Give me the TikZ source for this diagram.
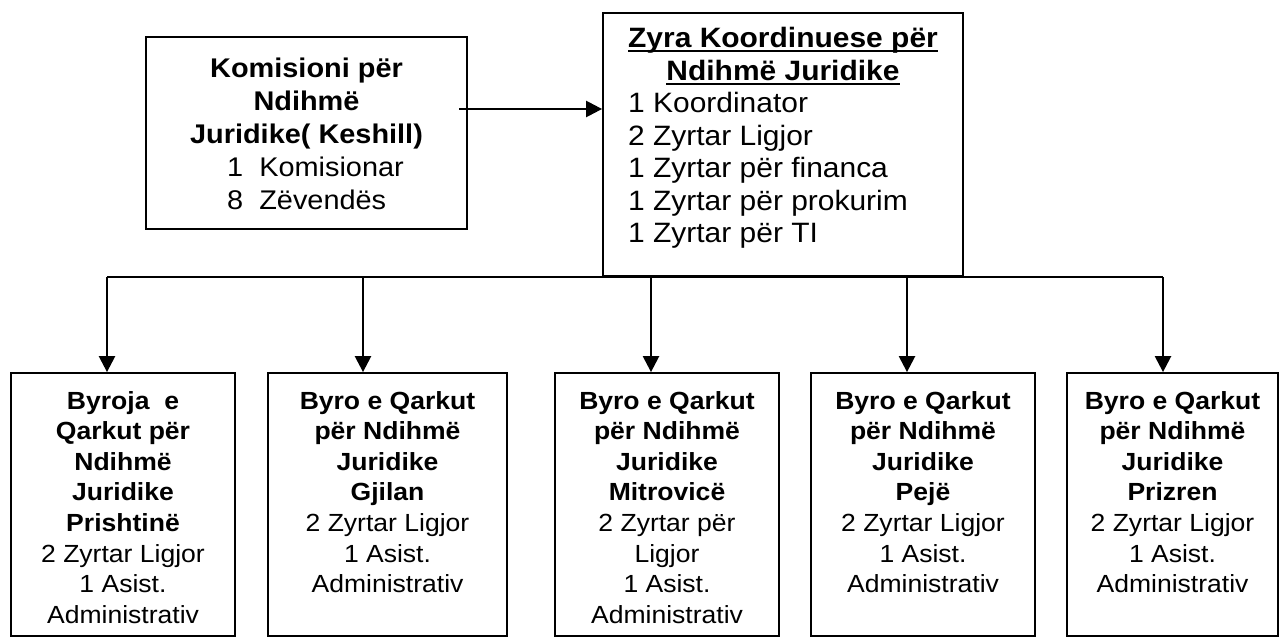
\documentclass[tikz,border=0pt]{standalone}
\usepackage{fontspec}
\setmainfont{Liberation Sans}[FakeStretch=1.07]
\usetikzlibrary{arrows.meta}

\newcommand{\topfont}{\fontsize{14}{16.25}\selectfont}
\newcommand{\komfont}{\fontsize{13.5}{16.5}\selectfont}
\newcommand{\byrofont}{\fontsize{12.4}{15.3}\selectfont}
\newcommand{\byro}[1]{\parbox[t][115.5pt][t]{100pt}{\centering\rule{0pt}{10pt}#1}}
\newcommand{\ulbold}[1]{\setbox0\hbox{\textbf{#1}}\rlap{\rule[-2.4pt]{\wd0}{1.1pt}}\box0}

\begin{document}
\begin{tikzpicture}[x=0.5pt, y=-0.5pt,
	box/.style={draw, line width=0.9pt, inner sep=0pt},
	byrobox/.style={box, minimum width=112pt, minimum height=131.5pt, inner ysep=8pt, font=\byrofont},
	link/.style={line width=1.2pt},
	arr/.style={link, -{Triangle[width=8pt, length=8pt]}}]
	\useasboundingbox (0,0) rectangle (1279,637);

	\node [box, minimum width=160.5pt, minimum height=96pt, align=center, font=\komfont] (komisioni) at (306.5,133)
		{\rule{0pt}{15pt}\textbf{Komisioni për}\\ \textbf{Ndihmë}\\ \textbf{Juridike( Keshill)}\\
		 \begin{tabular}[t]{@{\hspace{9pt}}l@{}}1\ \ Komisionar\\ 8\ \ Zëvendës\end{tabular}};
	\node [box, minimum width=180pt, minimum height=131.5pt, font=\topfont] (zyra) at (783,144.5)
		{\begin{tabular}{@{}l@{}}
		 \multicolumn{1}{@{}c@{}}{\ulbold{Zyra Koordinuese për}}\\
		 \multicolumn{1}{@{}c@{}}{\ulbold{Ndihmë Juridike}}\\
		 1 Koordinator\\ 2 Zyrtar Ligjor\\ 1 Zyrtar për financa\\ 1 Zyrtar për prokurim\\ 1 Zyrtar për TI\\[6pt]
		 \end{tabular}};

	\node [byrobox] (prishtine) at (123,504.5)
		{\byro{\textbf{Byroja\ \ e}\\ \textbf{Qarkut për}\\ \textbf{Ndihmë}\\ \textbf{Juridike}\\ \textbf{Prishtinë}\\ 2 Zyrtar Ligjor\\ 1 Asist.\\ Administrativ}};
	\node [byrobox, minimum width=119.5pt] (gjilan) at (387.5,504.5)
		{\byro{\textbf{Byro e Qarkut}\\ \textbf{për Ndihmë}\\ \textbf{Juridike}\\ \textbf{Gjilan}\\ 2 Zyrtar Ligjor\\ 1 Asist.\\ Administrativ}};
	\node [byrobox] (mitrovice) at (667,504.5)
		{\byro{\textbf{Byro e Qarkut}\\ \textbf{për Ndihmë}\\ \textbf{Juridike}\\ \textbf{Mitrovicë}\\ 2 Zyrtar për\\ Ligjor\\ 1 Asist.\\ Administrativ}};
	\node [byrobox] (peje) at (923,504.5)
		{\byro{\textbf{Byro e Qarkut}\\ \textbf{për Ndihmë}\\ \textbf{Juridike}\\ \textbf{Pejë}\\ 2 Zyrtar Ligjor\\ 1 Asist.\\ Administrativ}};
	\node [byrobox, minimum width=105.5pt] (prizren) at (1172.5,504.5)
		{\byro{\textbf{Byro e Qarkut}\\ \textbf{për Ndihmë}\\ \textbf{Juridike}\\ \textbf{Prizren}\\ 2 Zyrtar Ligjor\\ 1 Asist.\\ Administrativ}};

	% komisioni -> zyra
	\coordinate (k) at (459,109);
	\draw [arr] (k) -- (k -| zyra.west);

	% bus to the offices
	\coordinate (busL) at (107,277);
	\coordinate (busR) at (1163,277);
	\draw [link] (busL) -- (busR);
	\foreach \x/\b in {107/prishtine, 363/gjilan, 651/mitrovice, 907/peje, 1163/prizren}{
		\coordinate (t\b) at (\x,277);
		\draw [arr] (t\b) -- (t\b |- \b.north);
	}
\end{tikzpicture}
\end{document}
